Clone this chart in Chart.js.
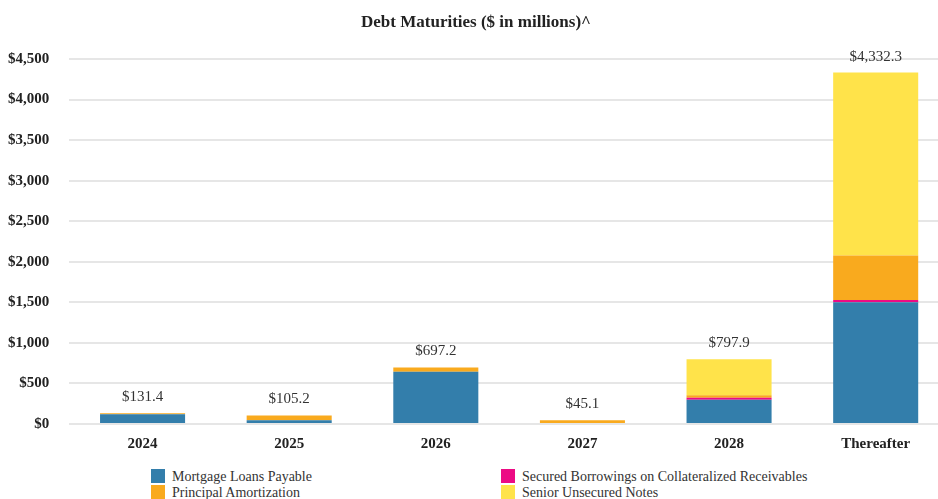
<!DOCTYPE html>
<html>
<head>
<meta charset="utf-8">
<script src="https://cdn.jsdelivr.net/npm/chart.js@4"></script>
<style>
  body { margin: 0; background: #fff; }
  #wrap { position: relative; width: 938px; height: 499px; overflow: hidden; }
  #box { position: absolute; left: -12px; top: 0; width: 961px; height: 456px; }
  #title { position: absolute; left: 0; width: 952px; top: 12px; text-align: center; font: bold 17px "Liberation Serif", serif; color: #222; }
  .lg { position: absolute; font: 14px "Liberation Serif", serif; color: #333; line-height: 15px; white-space: nowrap; }
  .lg span { display: inline-block; width: 14px; height: 14px; vertical-align: top; margin-right: 7px; }
</style>
</head>
<body>
<div id="wrap">
  <div id="box"><canvas id="bar"></canvas></div>
  <div id="title">Debt Maturities ($ in millions)^</div>
  <div class="lg" style="left:151px; top:469px"><span style="background:#337eab"></span>Mortgage Loans Payable</div>
  <div class="lg" style="left:151px; top:485px"><span style="background:#f9aa1e"></span>Principal Amortization</div>
  <div class="lg" style="left:501px; top:469px"><span style="background:#ec0b84"></span>Secured Borrowings on Collateralized Receivables</div>
  <div class="lg" style="left:501px; top:485px"><span style="background:#ffe34a"></span>Senior Unsecured Notes</div>
</div>
<script>
// 카테고리와 시리즈 값
const years = ['2024', '2025', '2026', '2027', '2028', 'Thereafter'];
const mortgage = [119, 45, 645, 0, 300, 1500];
const secured = [0, 0, 0, 0, 25, 30];
const principal = [12.4, 60.2, 52.2, 45.1, 28, 547];
const senior = [0, 0, 0, 0, 444.9, 2255.3];
const totals = [131.4, 105.2, 697.2, 45.1, 797.9, 4332.3];
const yTicks = [0, 500, 1000, 1500, 2000, 2500, 3000, 3500, 4000, 4500];

// 막대 위에 합계 표시
const totalLabels = {
  id: 'totalLabels',
  afterDatasetsDraw(chart) {
    const ctx = chart.ctx;
    const x = chart.scales.x, y = chart.scales.y;
    ctx.save();
    ctx.font = '15px "Liberation Serif", serif';
    ctx.fillStyle = '#333';
    ctx.textAlign = 'center';
    ctx.textBaseline = 'middle';
    totals.forEach((t, i) => {
      const txt = '$' + t.toLocaleString('en-US', { minimumFractionDigits: 1, maximumFractionDigits: 1 });
      ctx.fillText(txt, x.getPixelForValue(i), y.getPixelForValue(t) - 16);
    });
    ctx.restore();
  }
};

const bar = document.getElementById('bar');
new Chart(bar, {
  type: 'bar',
  data: {
    labels: years,
    datasets: [
      { label: 'Mortgage Loans Payable', data: mortgage, backgroundColor: '#337eab' },
      { label: 'Secured Borrowings on Collateralized Receivables', data: secured, backgroundColor: '#ec0b84' },
      { label: 'Principal Amortization', data: principal, backgroundColor: '#f9aa1e' },
      { label: 'Senior Unsecured Notes', data: senior, backgroundColor: '#ffe34a' }
    ]
  },
  options: {
    responsive: true,
    maintainAspectRatio: false,
    animation: false,
    datasets: { bar: { barPercentage: 0.58, categoryPercentage: 1 } },
    layout: { padding: { top: 59, left: 0, right: 0, bottom: 0 } },
    plugins: {
      legend: { display: false },
      tooltip: { enabled: false },
      title: { display: false }
    },
    scales: {
      x: {
        stacked: true,
        grid: { display: false },
        border: { display: false },
        ticks: { color: '#222', font: { family: '"Liberation Serif", serif', size: 15, weight: 'bold' }, padding: 3 }
      },
      y: {
        stacked: true,
        min: 0,
        max: 4500,
        afterBuildTicks(axis) { axis.ticks = yTicks.map(v => ({ value: v })); },
        grid: { color: '#e6e6e6', lineWidth: 2, drawTicks: false },
        border: { display: false },
        ticks: {
          color: '#222',
          padding: 20,
          font: { family: '"Liberation Serif", serif', size: 15, weight: 'bold' },
          callback: v => '$' + v.toLocaleString('en-US')
        }
      }
    }
  },
  plugins: [totalLabels]
});
</script>
</body>
</html>
